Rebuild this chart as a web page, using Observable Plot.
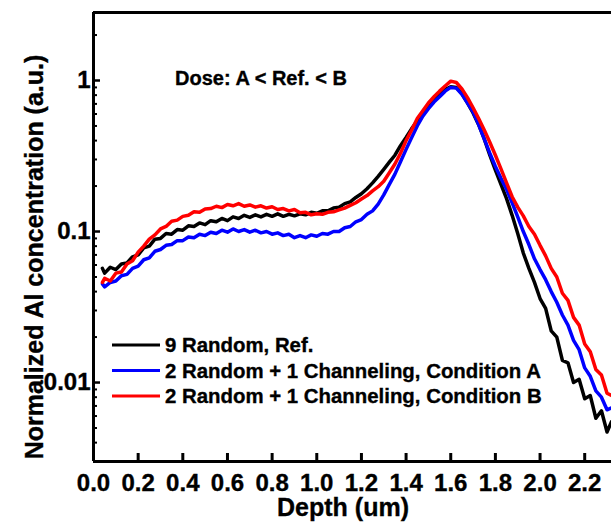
<!DOCTYPE html>
<html><head><meta charset="utf-8">
<script src="https://cdn.jsdelivr.net/npm/d3@7"></script>
<script src="https://cdn.jsdelivr.net/npm/@observablehq/plot@0.6"></script>
<style>body{margin:0;background:#fff;} svg{display:block} svg text{stroke:#000;stroke-width:0.35px;}</style>
</head><body><div id="chart"></div>
<script>
// Depth grid (um)
const depth = [
0.04, 0.05, 0.075, 0.1, 0.125, 0.15, 0.175, 0.2, 0.225, 0.25,
0.275, 0.3, 0.325, 0.35, 0.375, 0.4, 0.425, 0.45, 0.475, 0.5,
0.525, 0.55, 0.575, 0.6, 0.625, 0.65, 0.675, 0.7, 0.725, 0.75,
0.775, 0.8, 0.825, 0.85, 0.875, 0.9, 0.925, 0.95, 0.975, 1.0,
1.025, 1.05, 1.075, 1.1, 1.125, 1.15, 1.175, 1.2, 1.225, 1.25,
1.275, 1.3, 1.325, 1.35, 1.375, 1.4, 1.425, 1.45, 1.475, 1.5,
1.525, 1.55, 1.575, 1.6, 1.625, 1.65, 1.675, 1.7, 1.725, 1.75,
1.775, 1.8, 1.825, 1.85, 1.875, 1.9, 1.925, 1.95, 1.975, 2.0,
2.025, 2.05, 2.075, 2.1, 2.125, 2.15, 2.175, 2.2, 2.225, 2.25,
2.275, 2.3, 2.32];

// 9 Random, Ref. (black)
const refValues = [
.057, .053, .058, .056, .061, .062, .068, .070, .078, .080,
.089, .090, .097, .096, .103, .102, .109, .108, .114, .111,
.118, .116, .122, .118, .125, .122, .128, .124, .129, .125,
.130, .126, .131, .126, .130, .127, .131, .129, .134, .132,
.137, .137, .143, .145, .153, .157, .168, .178, .192, .210,
.232, .258, .288, .32, .37, .42, .48, .54, .61, .68,
.75, .81, .87, .91, .90, .82, .71, .61, .51, .41,
.32, .255, .205, .165, .128, .097, .072, .057, .046, .036,
.031, .022, .020, .014, .0135, .010, .0105, .0078, .0082, .0058,
.0065, .0047, .0055];

// 2 Random + 1 Channeling, Condition A (blue)
const condAValues = [
.045, .043, .046, .047, .051, .052, .057, .059, .065, .067,
.074, .076, .081, .082, .087, .087, .092, .091, .096, .094,
.099, .097, .102, .099, .104, .100, .103, .099, .102, .098,
.100, .096, .098, .094, .096, .091, .094, .091, .095, .093,
.097, .096, .100, .100, .106, .108, .116, .120, .130, .137,
.152, .175, .205, .24, .29, .35, .42, .50, .58, .65,
.72, .78, .85, .90, .89, .81, .71, .62, .51, .41,
.33, .27, .225, .19, .155, .125, .100, .082, .066, .056,
.048, .040, .034, .028, .024, .019, .0165, .0125, .0110, .0088,
.0080, .0066, .0068];

// 2 Random + 1 Channeling, Condition B (red)
const condBValues = [
.046, .049, .047, .053, .054, .061, .064, .073, .080, .089,
.095, .104, .108, .117, .119, .126, .128, .135, .134, .141,
.142, .147, .144, .151, .148, .153, .147, .150, .145, .148,
.143, .146, .140, .142, .137, .140, .133, .134, .129, .131,
.130, .134, .135, .139, .143, .149, .155, .164, .173, .186,
.198, .215, .245, .28, .33, .40, .47, .56, .63, .71,
.78, .85, .92, .99, .97, .88, .77, .66, .56, .47,
.39, .32, .26, .21, .17, .145, .127, .108, .096, .081,
.069, .057, .050, .039, .035, .027, .024, .018, .016, .0122,
.0112, .0085, .0082];

const seriesNames = ["9 Random, Ref.", "2 Random + 1 Channeling, Condition A", "2 Random + 1 Channeling, Condition B"];
const seriesColors = ["#000000", "#0000ff", "#ff0000"];
const xTicks = [0, 0.2, 0.4, 0.6, 0.8, 1.0, 1.2, 1.4, 1.6, 1.8, 2.0, 2.2];
const yMajorTicks = [0.01, 0.1, 1];
const yMinorTicks = [0.004, 0.005, 0.006, 0.007, 0.008, 0.009,
  0.02, 0.03, 0.04, 0.05, 0.06, 0.07, 0.08, 0.09,
  0.2, 0.3, 0.4, 0.5, 0.6, 0.7, 0.8, 0.9, 2];
const xDomain = [0, 2.32];
const yDomain = [0.003, 2.82];
const xTitle = "Depth (um)";
const yTitle = "Normalized Al concentration (a.u.)";
const note = "Dose: A < Ref. < B";

const data = [];
[refValues, condAValues, condBValues].forEach((vals, i) =>
  vals.forEach((v, j) => data.push({series: seriesNames[i], depth: depth[j], value: v})));

const blank = () => "";
const plot = Plot.plot({
  width: 611, height: 525,
  marginTop: 12, marginBottom: 64, marginLeft: 93, marginRight: 0,
  style: {fontFamily: "'Liberation Sans', Arial, sans-serif", fontWeight: "bold", fontSize: "24px", color: "#000", background: "#fff"},
  x: {domain: xDomain},
  y: {type: "log", domain: yDomain},
  color: {domain: seriesNames, range: seriesColors},
  marks: [
    Plot.line(data, {x: "depth", y: "value", z: "series", stroke: "series", strokeWidth: 3.5, clip: true}),
    Plot.axisX(xTicks, {tickSize: 0, tickPadding: 12, tickFormat: d3.format(".1f"), label: null}),
    Plot.axisX(xTicks, {tickSize: 8, dy: -8, stroke: "#000", strokeWidth: 3, tickFormat: blank, label: null}),
    Plot.axisY(yMajorTicks, {tickSize: 0, tickPadding: 3, tickFormat: d => String(d), label: null}),
    Plot.axisY(yMajorTicks, {tickSize: 7, dx: 7, stroke: "#000", tickFormat: blank, strokeWidth: 2.5, label: null}),
    Plot.axisY(yMinorTicks, {tickSize: 4, dx: 4, stroke: "#000", tickFormat: blank, strokeWidth: 2, label: null}),
    Plot.ruleX([xDomain[0]], {strokeWidth: 3}),
    Plot.ruleY(yDomain, {strokeWidth: 3})
  ]
});

const svg = d3.select(plot);
// axis titles
svg.append("text").attr("x", 343).attr("y", 516).attr("text-anchor", "middle")
  .style("font-size", "25px").text(xTitle);
svg.append("text").attr("transform", "translate(43,257) rotate(-90)").attr("text-anchor", "middle")
  .style("font-size", "25px").text(yTitle);
// annotation
svg.append("text").attr("x", 175).attr("y", 85).attr("text-anchor", "start")
  .style("font-size", "20px").text(note);
// legend
const lg = svg.append("g");
seriesNames.forEach((name, i) => {
  const y = 345 + i * 25.5;
  lg.append("line").attr("x1", 112).attr("x2", 160).attr("y1", y).attr("y2", y)
    .attr("stroke", seriesColors[i]).attr("stroke-width", 3);
  lg.append("text").attr("x", 165).attr("y", y).attr("dy", "0.36em").attr("text-anchor", "start")
    .style("font-size", "20.4px").text(name);
});

document.getElementById("chart").appendChild(plot);
</script>
</body></html>
